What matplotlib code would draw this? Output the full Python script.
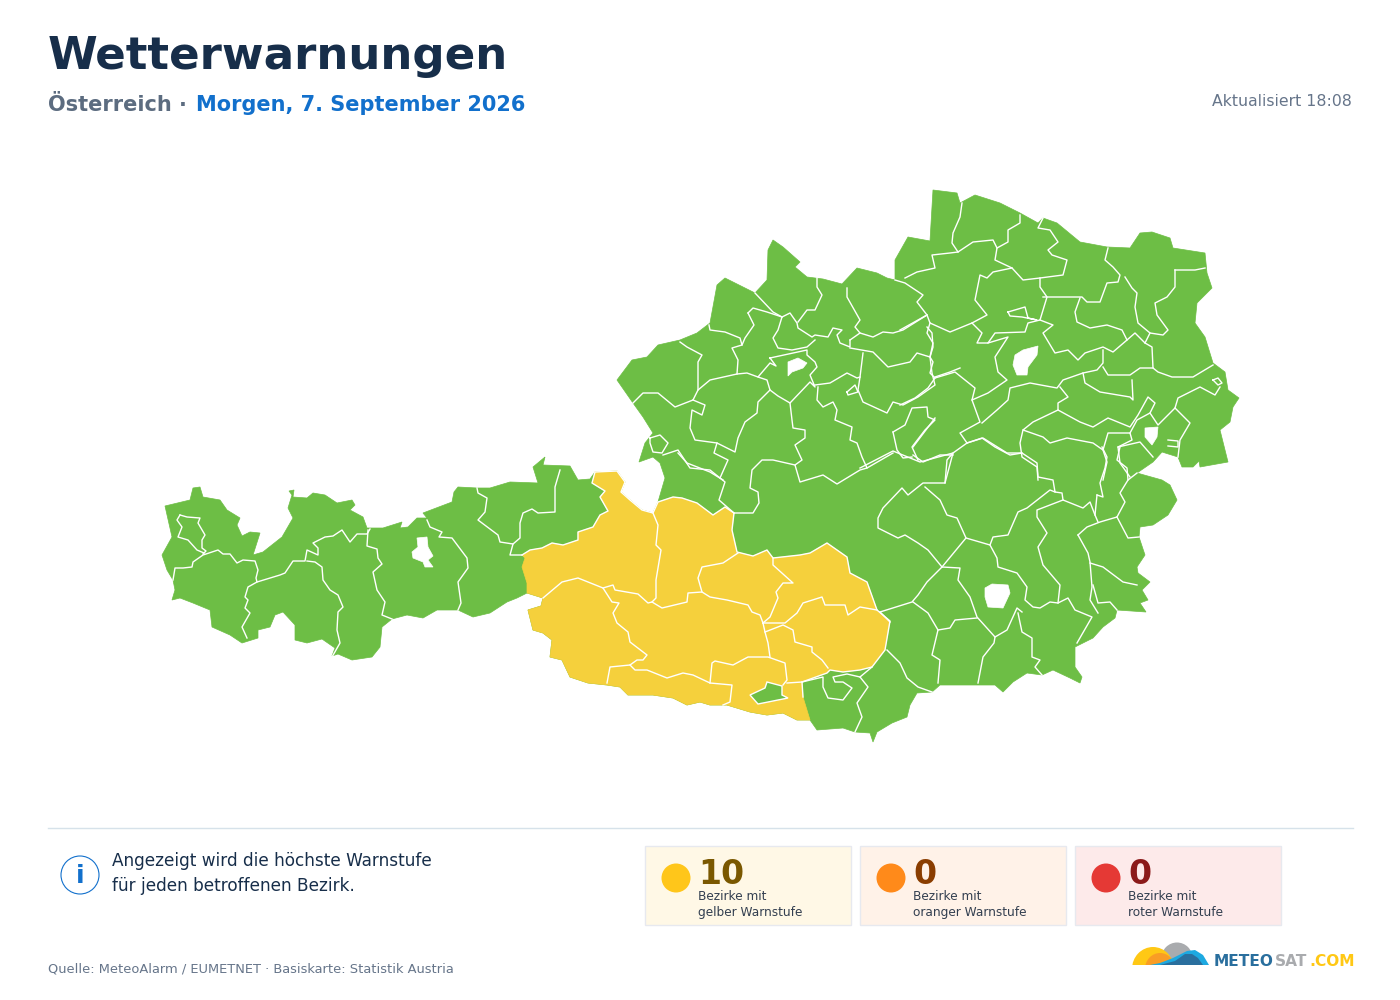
import matplotlib
matplotlib.use('Agg')
import matplotlib.pyplot as plt
from matplotlib.patches import Polygon, Circle, Rectangle, Ellipse

AUSTRIA = [(165,506),(190,500),(193,488),(200,487),(203,497),(220,500),(227,510),(240,518),(237,525),(242,536),
    (250,532),(260,533),(253,555),(263,552),(282,537),(293,518),(288,508),(292,495),(289,491),(294,490),(293,497),
    (307,498),(313,493),(325,495),(337,503),(352,500),(355,505),(350,510),(363,517),(367,528),(383,528),(402,522),
    (400,528),(408,527),(417,518),(427,518),(423,513),(452,502),(454,492),(458,487),(477,488),(490,488),(510,482),
    (538,483),(533,467),(545,457),(543,465),(570,466),(578,480),(590,479),(595,472),(617,471),(625,482),(621,492),
    (630,500),(642,510),(653,513),(658,502),(665,478),(660,463),(653,457),(639,462),(645,443),(653,433),(643,417),
    (633,403),(617,380),(632,360),(647,357),(658,345),(680,340),(697,333),(710,323),(717,285),(725,278),(743,287),
    (755,293),(767,280),(768,250),(773,240),(783,247),(800,262),(795,267),(807,277),(823,279),(842,284),(857,268),
    (877,273),(887,278),(895,280),(895,260),(908,237),(930,241),(933,190),(957,193),(960,203),(975,195),(1000,203),
    (1020,213),(1038,223),(1043,218),(1057,223),(1080,242),(1107,247),(1130,248),(1140,233),(1152,232),(1170,238),
    (1173,248),(1205,253),(1207,273),(1212,288),(1197,303),(1195,323),(1205,337),(1213,363),(1225,372),(1228,390),
    (1239,398),(1233,407),(1230,422),(1220,430),(1228,462),(1200,467),(1199,461),(1193,467),(1182,467),(1178,457),
    (1162,452),(1153,462),(1137,473),(1162,480),(1170,485),(1177,500),(1168,515),(1153,525),(1140,527),(1139,537),
    (1145,555),(1137,567),(1138,573),(1150,582),(1142,590),(1148,600),(1140,603),(1146,612),(1117,610),(1115,618),
    (1103,627),(1093,638),(1075,647),(1075,667),(1082,677),(1080,683),(1070,678),(1053,670),(1042,675),(1027,673),
    (1013,682),(1003,692),(995,685),(960,685),(940,685),(932,692),(917,693),(910,705),(907,717),(892,723),(877,732),
    (873,742),(870,733),(855,732),(843,728),(817,730),(810,720),(797,720),(783,713),(767,715),(750,712),(727,705),
    (710,705),(700,702),(687,705),(673,698),(653,695),(628,695),(620,687),(607,685),(588,683),(570,677),(562,660),
    (550,657),(552,640),(543,633),(533,630),(528,610),(541,606),(543,598),(527,593),(517,598),(507,602),(490,613),
    (473,617),(458,610),(437,610),(423,618),(407,615),(392,619),(382,627),(380,647),(372,657),(352,660),(338,654),
    (332,656),(335,648),(322,639),(307,643),(295,640),(295,625),(283,612),(275,615),(270,627),(258,630),(258,638),
    (242,643),(230,635),(212,627),(210,610),(193,603),(180,598),(172,600),(175,590),(173,580),(167,570),(162,555),
    (172,537)]

YELLOW_ZONE = [(522,555),(530,550),(542,548),(552,543),(563,545),(578,540),(578,532),(593,527),(600,515),(608,511),
    (600,497),(605,491),(592,483),(595,472),(617,471),(625,482),(621,492),(630,500),(642,510),(653,513),(658,502),
    (673,497),(682,498),(697,503),(713,515),(725,507),(734,513),(732,530),(737,552),(753,556),(767,550),(773,558),
    (800,555),(810,553),(827,543),(847,557),(850,573),(867,582),(877,610),(890,621),(885,650),(872,667),(860,670),
    (843,672),(830,670),(827,673),(802,682),(803,697),(810,720),(797,720),(783,713),(767,715),(750,712),(727,705),
    (710,705),(700,702),(687,705),(673,698),(653,695),(628,695),(620,687),(607,685),(588,683),(570,677),(562,660),
    (550,657),(552,640),(543,633),(533,630),(528,610),(541,606),(543,598),(527,593),(527,583),(522,567),(525,558)]

GREEN_ENCLAVE = [(750,695),(765,688),(767,682),(782,686),(782,695),(788,698),(758,704)]

HOLES = [
    [(412,552),(418,547),(417,538),(427,537),(428,547),(433,556),(428,560),(433,567),(425,567),(423,562),(413,558)],
    [(788,362),(798,358),(807,363),(803,368),(792,372),(788,376)],
    [(985,588),(992,584),(1008,585),(1010,593),(1003,608),(988,607),(985,597)],
    [(1015,355),(1023,350),(1038,346),(1037,355),(1028,367),(1027,375),(1017,375),(1013,365)],
    [(1145,428),(1158,427),(1157,437),(1152,445),(1145,437)],
]

WEST_BORDERS = [
    [(173,580),(175,568),(183,568),(192,567),(193,562),(203,555),(218,550),(223,554),(230,554),(237,563),(243,560),
     (255,561),(258,570),(256,578),(257,582),(248,587),(245,597),(248,600),(245,608),(250,613),(242,627),(247,638)],
    [(257,582),(280,575),(285,573),(293,561),(305,561),(307,550),(318,555),(318,548),(313,543),(325,537),(333,536),
     (342,530),(350,542),(357,534),(367,534),(370,529)],
    [(307,561),(315,562),(322,567),(323,580),(330,590),(338,595),(343,607),(338,612),(337,630),(340,643),(332,657)],
    [(368,530),(367,546),(377,549),(378,558),(382,564),(373,572),(377,590),(385,602),(382,615),(392,619)],
    [(427,520),(430,527),(442,532),(439,537),(452,538),(467,558),(468,568),(458,582),(461,603),(458,610)],
    [(477,488),(478,493),(487,498),(485,512),(478,520),(498,535),(500,542),(513,544),(520,538),(520,523),(523,513),
     (532,509),(538,513),(555,512),(555,487),(560,470)],
    [(513,544),(510,555),(522,555)],
    [(180,515),(187,517),(200,518),(198,523),(205,535),(202,540),(202,548),(206,551),(203,554)],
    [(180,515),(177,520),(182,527),(178,537),(188,540),(197,550),(204,553)],
]

YELLOW_BORDERS = [
    [(653,513),(658,525),(656,545),(661,550),(656,580),(656,598),(652,602)],
    [(543,598),(562,582),(578,578),(603,588),(613,585),(615,590),(638,594),(648,603),(652,602),(662,608),(687,602),
     (688,593),(702,592),(710,597),(727,600),(748,605),(752,612),(760,615),(763,623)],
    [(603,588),(612,602),(619,603),(613,613),(617,623),(628,632),(630,642),(647,655),(643,660),(637,660),(630,665),
     (610,667),(607,683)],
    [(630,665),(635,670),(647,670),(667,678),(683,673),(693,675),(710,683),(732,685),(730,702),(723,705)],
    [(710,683),(712,663),(715,661),(733,665),(748,657),(768,657),(785,663),(787,680),(783,685)],
    [(787,683),(802,682)],
    [(702,592),(698,578),(702,567),(723,563),(738,553)],
    [(773,558),(773,565),(793,583),(783,583),(776,592),(778,598),(770,617),(763,623)],
    [(763,623),(785,623),(797,613),(803,603),(822,597),(825,605),(845,605),(848,615),(860,607),(877,610)],
    [(763,623),(765,632),(768,643),(770,657)],
    [(765,632),(783,625),(793,630),(795,642),(812,647),(812,652),(822,660),(828,668)],
]

NORTH_BORDERS = [
    [(755,293),(773,312),(782,317)],
    [(709,325),(710,330),(725,332),(740,338),(742,345),(732,348),(738,360),(737,374)],
    [(748,313),(753,308),(767,312),(782,317),(778,330),(773,338),(778,348),(792,350),(807,347),(815,340)],
    [(748,313),(754,325),(745,338),(742,345)],
    [(782,317),(790,313),(797,323),(798,328),(812,337),(815,335),(828,337),(833,328),(842,330),(837,335),(840,343),
     (850,347),(850,340)],
    [(798,322),(807,310),(815,310),(822,295),(817,287),(817,278)],
    [(847,288),(847,297),(860,320),(855,327),(860,333),(850,340)],
    [(860,333),(873,337),(883,332),(893,333),(903,330),(927,315)],
    [(895,280),(905,283),(923,295),(917,302),(927,315),(930,323),(950,332),(972,323),(987,315),(975,300),(980,275),
     (987,278),(993,272),(1012,268)],
    [(850,348),(873,352),(888,367),(910,362),(917,353),(930,357),(933,347),(932,333),(927,327)],
    [(863,353),(860,377),(858,390),(863,402),(887,413),(893,402),(903,405),(918,397),(935,385),(932,373),(930,357)],
    [(935,377),(950,372),(960,368)],
    [(770,358),(807,350),(807,355),(815,362),(817,367),(810,375),(815,387),(810,382),(790,403),(778,396),(770,390),
     (767,380),(758,377),(770,363),(776,366),(770,358)],
    [(698,390),(710,380),(737,374),(747,373),(758,377)],
    [(680,342),(687,347),(702,355),(698,362),(698,390),(693,400),(675,407),(658,393),(643,393),(633,403)],
    [(693,400),(705,405),(702,415),(692,410),(690,428),(695,440),(717,443),(735,452),(738,438),(745,422),(757,413),
     (758,402),(770,390)],
    [(717,443),(714,453),(728,460),(720,478),(725,482),(719,500),(734,513)],
    [(663,455),(678,450),(690,468),(710,470),(720,478)],
    [(650,438),(660,435),(668,443),(662,453),(653,452),(650,443),(650,438)],
    [(790,403),(792,420),(793,428),(805,430),(805,438),(795,445),(802,460),(795,465),(800,482),(823,475),(837,484),
     (860,470),(867,468),(862,457),(857,443),(850,440),(852,427),(835,420),(837,410),(833,402),(823,407),(817,400),
     (818,387)],
    [(795,465),(773,460),(762,460),(752,470),(750,488),(758,492),(759,503),(753,513),(734,513)],
    [(678,453),(687,463),(710,472),(723,480)],
    [(815,385),(830,383),(847,373),(857,378),(860,377)],
    [(847,392),(855,385),(858,392),(848,395),(847,392)],
    [(893,432),(905,425),(912,408),(927,407),(928,417),(935,420),(925,430),(912,447),(918,460)],
    [(893,432),(897,450),(903,458),(912,457)],
    [(867,468),(893,453)],
    [(860,468),(893,451),(920,462),(953,453),(945,483),(923,483),(908,495),(902,488),(883,508),(878,518),(878,528),
     (898,538),(905,535),(918,543),(928,550),(942,567)],
    [(925,487),(940,500),(947,515),(957,518),(966,538),(942,567),(927,582),(918,595),(912,602),(880,612)],
    [(945,483),(947,460),(953,453),(967,443),(983,438),(1007,453),(1022,453),(1037,463),(1038,477),(1053,480),
     (1055,492),(1062,493),(1063,500),(1083,508),(1090,502),(1095,515),(1098,522)],
    [(966,538),(990,545),(993,537),(1008,535),(1018,512),(1027,508),(1050,490),(1055,492)],
    [(990,545),(997,558),(998,567),(1017,573),(1027,587),(1025,600),(1033,607),(1040,608),(1050,602),(1058,603),
     (1068,598),(1075,610),(1092,617),(1077,643)],
    [(1063,500),(1037,510),(1037,517),(1047,533),(1038,547),(1043,565),(1060,585),(1058,603)],
    [(1078,535),(1087,527),(1100,522),(1117,517)],
    [(1078,535),(1088,553),(1090,562),(1092,587),(1090,600),(1098,613)],
    [(1090,563),(1103,567),(1123,582),(1137,585)],
    [(1093,585),(1098,603),(1110,602),(1117,610)],
    [(1117,517),(1128,538),(1139,537)],
    [(1117,517),(1125,502),(1120,493),(1128,480),(1127,468),(1117,460),(1120,447)],
    [(1128,480),(1137,473)],
    [(1097,495),(1103,497),(1100,483),(1105,468),(1107,457),(1102,447)],
    [(1095,515),(1097,495)],
    [(942,567),(960,568),(958,580),(970,597),(977,617),(995,637),(994,643),(983,657),(978,683)],
    [(913,602),(928,613),(938,630),(932,655),(940,660),(938,683)],
    [(938,630),(950,628),(955,620),(977,618)],
    [(995,637),(1007,630),(1017,608),(1022,612)],
    [(1018,613),(1022,632),(1032,638),(1032,657),(1040,660),(1035,667),(1042,675)],
    [(887,650),(900,663),(907,678),(918,687),(932,692)],
    [(880,612),(890,622)],
    [(802,682),(823,677),(823,687),(828,698),(843,700),(852,688),(843,682),(835,682),(833,677),(847,674),(860,677),
     (868,687),(857,703),(862,717),(855,732)],
    [(860,677),(872,667)],
    [(905,278),(917,272),(935,268),(932,255),(950,253),(958,252),(973,242),(993,240),(997,248),(995,260),(1012,268),
     (1023,280),(1040,278),(1063,275),(1067,260),(1052,255),(1048,250),(1058,242),(1050,230),(1038,228),(1043,218)],
    [(962,203),(960,217),(953,233),(952,243),(958,252)],
    [(997,248),(1008,242),(1008,230),(1020,223),(1020,215)],
    [(927,315),(900,330)],
    [(930,323),(927,333),(933,343),(930,357),(933,362),(930,373),(935,378),(955,372),(975,388),(972,400),(980,422),
     (960,433),(967,443)],
    [(935,378),(928,388),(915,398),(900,405)],
    [(972,400),(988,393),(1007,380),(998,372),(995,357),(1008,337),(988,343)],
    [(972,323),(982,333),(977,343),(988,343),(995,333),(1025,332),(1028,323),(1040,320),(1047,297),(1040,287),(1040,278)],
    [(1008,312),(1025,307),(1028,318),(1037,320),(1022,317),(1010,316),(1008,312)],
    [(1043,297),(1082,297),(1087,302),(1100,302),(1107,283),(1118,282),(1120,275),(1113,267),(1105,260),(1108,248)],
    [(1080,298),(1075,312),(1077,322),(1090,328),(1107,325),(1122,330),(1127,340),(1113,352),(1103,347),(1085,353),
     (1078,360),(1068,350),(1055,353),(1043,333),(1053,325),(1040,320)],
    [(1127,340),(1135,333),(1145,343),(1152,347),(1153,368),(1158,372),(1172,377),(1193,377),(1213,365)],
    [(1125,277),(1132,288),(1137,293),(1135,307),(1138,323),(1150,333),(1145,343)],
    [(1175,270),(1195,270),(1205,268)],
    [(1175,270),(1175,287),(1167,297),(1155,303),(1157,315),(1168,330),(1163,335),(1150,333)],
    [(1103,350),(1103,363),(1097,370),(1083,373),(1063,380),(1057,388),(1030,383),(1010,388),(1008,400),(997,410),(982,423)],
    [(1103,367),(1108,375),(1130,375),(1140,368),(1153,368)],
    [(1083,373),(1085,383),(1100,392),(1130,397),(1133,400),(1132,380)],
    [(1060,387),(1068,397),(1058,403),(1058,410),(1080,422),(1093,427),(1108,418),(1130,427),(1138,415),(1148,397),
     (1155,403),(1150,413),(1158,425),(1175,408),(1178,398),(1200,387),(1215,395),(1220,387)],
    [(1058,410),(1033,422),(1023,430),(1043,437),(1050,443),(1067,438),(1093,443),(1103,450),(1108,433),(1130,433),
     (1132,440),(1118,447),(1120,463),(1130,477)],
    [(1023,430),(1020,443),(1022,457),(1037,467),(1038,480)],
    [(967,443),(982,438),(995,447),(1010,455),(1022,453)],
    [(1103,450),(1107,462),(1103,480)],
    [(1118,447),(1140,442),(1153,457)],
    [(1130,433),(1137,420),(1150,413)],
    [(1175,408),(1190,423),(1180,440),(1178,457)],
    [(1168,440),(1178,441),(1178,447),(1168,446)],
    [(1213,380),(1218,378),(1222,383),(1218,385),(1213,380)],
    [(913,447),(935,418)],
    [(913,455),(923,462),(940,455),(953,455)],
]

card_counts = ['10', '0', '0']
card_lines = ['Bezirke mit\ngelber Warnstufe', 'Bezirke mit\noranger Warnstufe', 'Bezirke mit\nroter Warnstufe']
card_left = [645, 860, 1075]
card_bg = ['#fff8e6', '#fff2e8', '#fdeaea']
card_dot = ['#ffc61a', '#ff8a1a', '#e53935']
card_num = ['#7a5800', '#8a3d00', '#8b1a1a']

GREEN = '#6dbe45'
YELLOW = '#f5d03c'
BLUE = '#1270cc'


def px(size):
    return size * 0.72


fig = plt.figure(figsize=(14, 10), dpi=100)
ax = fig.add_axes([0, 0, 1, 1])
ax.set_xlim(0, 1400)
ax.set_ylim(1000, 0)
ax.axis('off')

# map
ax.add_patch(Polygon(AUSTRIA, closed=True, fc=GREEN, ec=GREEN, lw=0.5, zorder=1))
ax.add_patch(Polygon(YELLOW_ZONE, closed=True, fc=YELLOW, ec=YELLOW, lw=0.5, zorder=2))
ax.add_patch(Polygon(GREEN_ENCLAVE, closed=True, fc=GREEN, ec='white', lw=1.0, zorder=3))
for line in WEST_BORDERS + YELLOW_BORDERS + NORTH_BORDERS:
    xs, ys = zip(*line)
    ax.plot(xs, ys, color='white', lw=1.0, solid_joinstyle='round', zorder=4)
# yellow zone rim is a white line where it meets the green districts
xs, ys = zip(*YELLOW_ZONE[:48])
ax.plot(xs, ys, color='white', lw=1.0, zorder=4)
for hole in HOLES:
    ax.add_patch(Polygon(hole, closed=True, fc='white', ec='white', lw=0.5, zorder=5))

# header
ax.text(48, 56, 'Wetterwarnungen', fontsize=px(45.1), fontweight='bold', color='#172e4a', va='center')
ax.text(48, 105, 'Österreich ·', fontsize=px(20.9), fontweight='bold', color='#5c6c80', va='center')
ax.text(196, 105, 'Morgen, 7. September 2026', fontsize=px(20.9), fontweight='bold', color=BLUE, va='center')
ax.text(1352, 101, 'Aktualisiert 18:08', fontsize=px(15.7), color='#66758a', ha='right', va='center')

# footer area
ax.plot([48, 1352.5], [828, 828], color='#d6e2ea', lw=1)
ax.add_patch(Circle((80, 875), 19, fc='white', ec=BLUE, lw=0.8))
ax.text(80, 876, 'i', fontsize=px(25), fontweight='bold', color=BLUE, ha='center', va='center')
ax.text(112, 861, 'Angezeigt wird die höchste Warnstufe', fontsize=px(16.9), color='#172e4a', va='center')
ax.text(112, 886, 'für jeden betroffenen Bezirk.', fontsize=px(16.9), color='#172e4a', va='center')
ax.text(48, 969, 'Quelle: MeteoAlarm / EUMETNET · Basiskarte: Statistik Austria', fontsize=px(12.97), color='#66758a', va='center')

for left, bg, dot, num_col, count, lines in zip(card_left, card_bg, card_dot, card_num, card_counts, card_lines):
    ax.add_patch(Rectangle((left, 846), 205.5, 78.5, fc=bg, ec='#e7e9ef', lw=1))
    ax.add_patch(Circle((left + 31, 878), 14.5, fc=dot, ec='none'))
    ax.text(left + 53, 874, count, fontsize=px(33), fontweight='bold', color=num_col, va='center')
    ax.text(left + 53, 904.5, lines, fontsize=px(12.1), color='#333f50', va='center', linespacing=1.25)

# logo
clip = Rectangle((1125, 935), 90, 30, transform=ax.transData)
logo = [Circle((1177, 958), 15.5, fc='#a9abae', ec='none'),
        Ellipse((1153, 969), 42, 44, fc='#ffc815', ec='none'),
        Ellipse((1160, 969), 30, 32, fc='#f99d25', ec='none'),
        Polygon([(1150,965),(1160,963),(1173,958),(1187,951),(1195,950),(1203,955),(1209,965)], fc='#1da9e1', ec='none'),
        Polygon([(1160,965),(1175,961),(1185,954),(1192,954),(1198,958),(1203,965)], fc='#2a6f9e', ec='none')]
for p in logo:
    ax.add_patch(p)
    p.set_clip_path(clip)
for x0, word, col in [(1214, 'METEO', '#2a6f9e'), (1275, 'SAT', '#a9abae'), (1309, '.COM', '#ffc815')]:
    ax.text(x0, 966, word, fontsize=px(15.4), fontweight='bold', color=col, va='baseline')

plt.savefig('out.png', dpi=100)
